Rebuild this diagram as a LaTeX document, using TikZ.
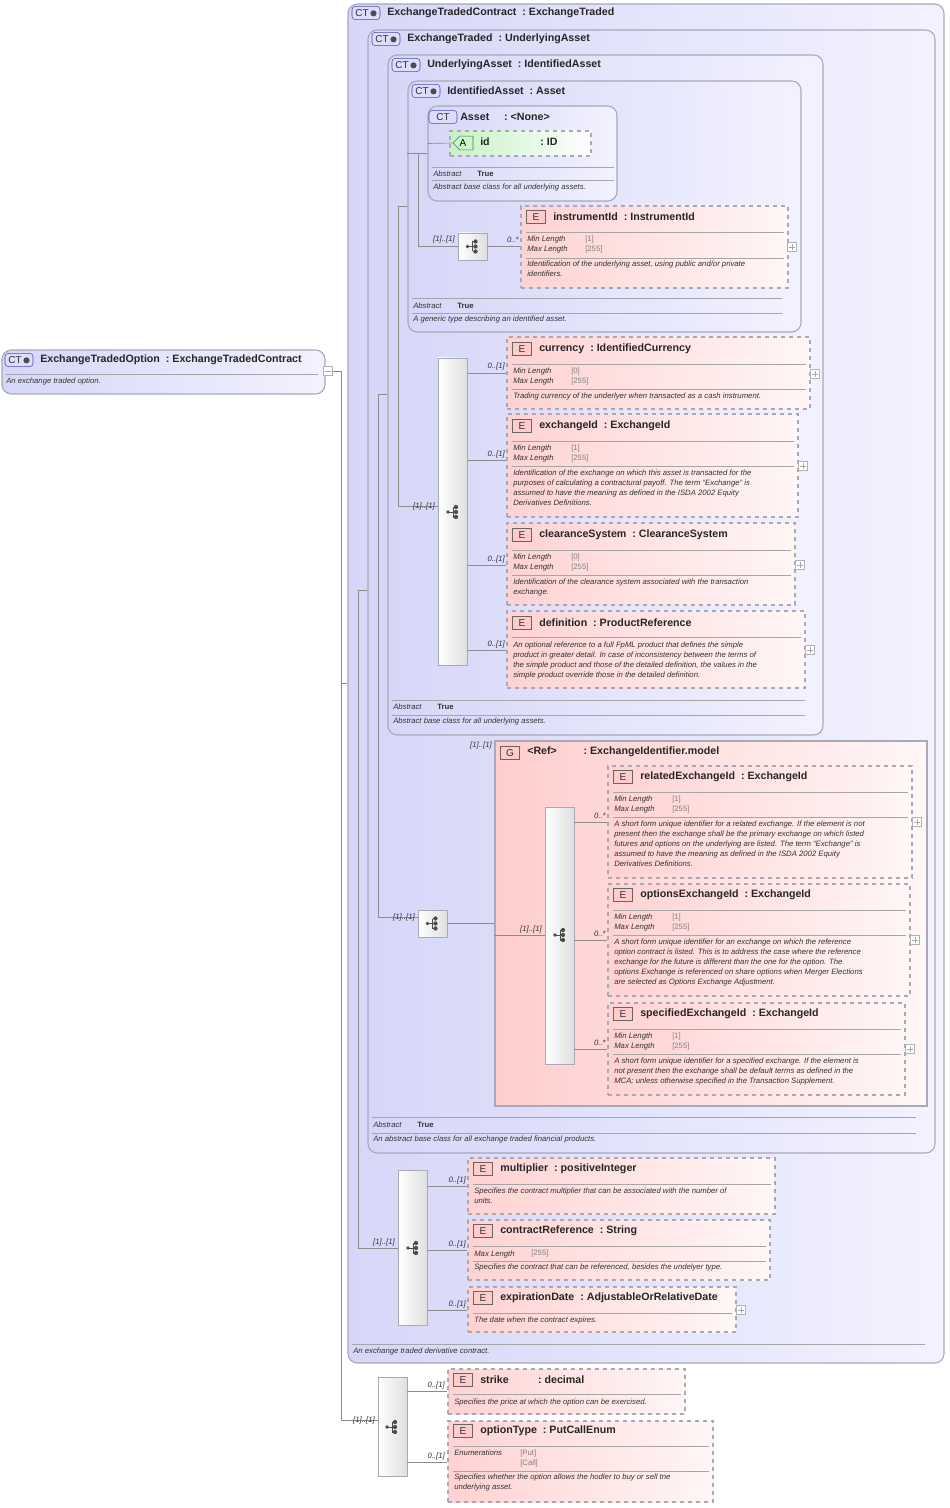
\documentclass[tikz,border=0pt]{standalone}
\usepackage{fontspec}
\setmainfont{Liberation Sans}
\usetikzlibrary{fit,shapes.geometric,shapes.misc}
\definecolor{lav}{HTML}{D6D6F8}
\definecolor{lavr}{HTML}{F2F2FF}
\definecolor{pk}{HTML}{FFD2D2}
\definecolor{pkg}{HTML}{FFCDCD}
\definecolor{pkr}{HTML}{FFF6F6}
\definecolor{gr}{HTML}{C6F2C6}
\definecolor{bd}{HTML}{A8A8B8}
\definecolor{ln}{HTML}{8C8C8C}
\tikzset{
 ctbox/.style={draw=bd, line width=0.8pt, rounded corners=7pt, left color=lav, right color=lavr, inner sep=0pt},
 elem/.style={draw=bd, dashed, line width=0.8pt, left color=pk, right color=pkr, inner sep=0pt},
 grp/.style={draw=bd, line width=0.8pt, left color=pkg, right color=pkr, inner sep=0pt},
 attr/.style={draw=bd, dashed, line width=0.8pt, left color=gr, right color=white, inner sep=0pt},
 seqb/.style={draw=bd, line width=0.6pt, left color=white, right color=gray!25, inner sep=0pt},
 conn/.style={draw=ln, line width=0.5pt},
 sep/.style={draw=gray!70, line width=0.5pt},
 ttl/.style={font=\fontsize{8}{9}\selectfont\bfseries, text=black!85, inner sep=0pt},
 sm/.style={font=\fontsize{5.8}{7.5}\selectfont\itshape, text=black!80, inner sep=0pt, align=left},
 smb/.style={font=\fontsize{5.8}{7.5}\selectfont\bfseries, text=black!80, inner sep=0pt},
 val/.style={font=\fontsize{5.8}{7.5}\selectfont, text=gray, inner sep=0pt, align=left},
 mult/.style={font=\fontsize{5.8}{7}\selectfont\itshape, text=black!80, inner sep=0pt},
 eicon/.style={draw=black!60, fill=pk!80!red!60, minimum width=14.5pt, minimum height=10pt, inner sep=0pt, font=\fontsize{7.5}{8}\selectfont, text=black!80},
 cticon/.style={draw=blue!40!gray, fill=lav!80!blue!40, rounded corners=2.5pt, minimum width=21pt, minimum height=10pt, inner sep=0pt, font=\fontsize{7.5}{8}\selectfont, text=black!80},
 pm/.style={draw=gray!60, fill=white, minimum width=6.5pt, minimum height=6.5pt, inner sep=0pt, line width=0.4pt},
 seqicon/.pic={\draw[black!70,line width=0.6pt] (-5,0)--(0,0) (0,-5)--(0,5) (0,-5)--(3,-5) (0,5)--(3,5) (0,0)--(3,0);
   \fill[black!70] (-5,0) circle (1.4pt) (3,-5) circle (1.6pt) (3,0) circle (1.6pt) (3,5) circle (1.6pt);}
}
\newcommand{\BX}[6]{\node[#1, fit={(#3,#4) (#5,#6)}] (#2) {};}
\newcommand{\ET}[4]{\node[eicon] (#1i) at (#2+10,#3) {E};\node[ttl,anchor=west] (#1t) at (#2+27,#3) {#4};}
\newcommand{\CT}[4]{\node[cticon] (#1i) at (#2+14,#3) {CT\,\tikz\fill[black!70](0,0) circle (2.3pt);};\node[ttl,anchor=west] (#1t) at (#2+35,#3) {#4};}
\newcommand{\PM}[3]{\node[pm] (#1) at (#2,#3) {};\draw[gray!70,line width=0.4pt] ([xshift=-2pt]#1.center)--([xshift=2pt]#1.center) ([yshift=-2pt]#1.center)--([yshift=2pt]#1.center);}
\newcommand{\DS}[4]{\node[sm,anchor=north west] (#1) at (#2,#3-4.5) {#4};}
\newcommand{\ML}[5]{\node[sm,anchor=north west] (#1a) at (#2,#3-4.5) {Min Length\\Max Length};\node[val,anchor=north west] (#1b) at (#2+58,#3-4.5) {{[#4]}\\{}{[#5]}};}
\begin{document}
\begin{tikzpicture}[x=0.75pt,y=-0.75pt]
\useasboundingbox[fill=white] (0,0) rectangle (949,1508);

% ---- root option
\BX{ctbox}{opt}{2}{350}{325}{394}
\CT{optc}{5}{360}{ExchangeTradedOption\ \ :\ ExchangeTradedContract}
\draw[sep] (6,374)--(318,374);
\DS{optd}{6}{382}{An exchange traded option.}
\node[pm] (optpm) at (328,371) {};\draw[gray!70,line width=0.4pt] ([xshift=-2pt]optpm.center)--([xshift=2pt]optpm.center);

% ---- contract
\BX{ctbox}{etc}{348}{4}{944}{1363}
\CT{etcc}{352}{13}{ExchangeTradedContract\ \ :\ ExchangeTraded}
\draw[sep] (352,1344)--(925,1344);
\DS{etcd}{353}{1352}{An exchange traded derivative contract.}

% ---- exchange traded
\BX{ctbox}{et}{368}{30}{935}{1153}
\CT{etc2}{372}{39}{ExchangeTraded\ \ :\ UnderlyingAsset}
\draw[sep] (372,1117)--(916,1117) (372,1133)--(916,1133);
\node[sm,anchor=west] (eta) at (373,1125) {Abstract};\node[smb,anchor=west] (etb) at (417,1125) {True};
\DS{etd}{373}{1140}{An abstract base class for all exchange traded financial products.}

% ---- underlying asset
\BX{ctbox}{ua}{388}{55}{823}{735}
\CT{uac}{392}{65}{UnderlyingAsset\ \ :\ IdentifiedAsset}
\draw[sep] (392,700)--(805,700) (392,715)--(805,715);
\node[sm,anchor=west] (uaa) at (393,707) {Abstract};\node[smb,anchor=west] (uab) at (437,707) {True};
\DS{uad}{393}{722}{Abstract base class for all underlying assets.}

% ---- identified asset
\BX{ctbox}{ia}{408}{81}{801}{332}
\CT{iac}{412}{91}{IdentifiedAsset\ \ :\ Asset}
\draw[sep] (412,298)--(782,298) (412,313)--(782,313);
\node[sm,anchor=west] (iaa) at (413,306) {Abstract};\node[smb,anchor=west] (iab) at (457,306) {True};
\DS{iad}{413}{320}{A generic type describing an identified asset.}

% ---- asset
\BX{ctbox}{as}{428}{106}{617}{201}
\node[cticon] (asi) at (443,117) {CT};\node[ttl,anchor=west] (ast) at (460,117) {Asset\ \ \ \ \ :\ <None>};
\BX{attr}{id}{450}{131}{591}{156}
\node[draw=black!60, fill=gr!80!green!60, minimum width=15pt, minimum height=10pt, inner sep=0pt, font=\fontsize{7.5}{8}\selectfont, chamfered rectangle, chamfered rectangle corners={north west,south west}, chamfered rectangle xsep=3pt] (idi) at (463,143) {A};
\node[ttl,anchor=west] (idt) at (480,142) {id\hspace{38pt}:\ ID};
\draw[sep] (432,167)--(614,167) (432,180)--(614,180);
\node[sm,anchor=west] (asa) at (433,174) {Abstract};\node[smb,anchor=west] (asb) at (477,174) {True};
\DS{asd}{433}{188}{Abstract base class for all underlying assets.}

% ---- instrumentId
\BX{elem}{ins}{521}{206}{788}{288}
\ET{inse}{526}{217}{instrumentId\ \ :\ InstrumentId}
\draw[sep] (526,232)--(784,232) (526,258)--(784,258);
\ML{insm}{527}{240}{1}{255}
\DS{insd}{527}{265}{Identification of the underlying asset, using public and/or private\\identifiers.}
\PM{inspm}{792}{247}
\BX{seqb}{sq0}{458}{233}{487}{260}
\pic at (sq0.center) {seqicon};

% connectors of inner hierarchy
\coordinate (j1) at (418,153);\coordinate (j1b) at (418,246);
\draw[conn] (as.west|-id) -- (idi.west);
\draw[conn] (as.west|-j1) -- (ia.west|-j1);
\draw[conn] (j1) -- (j1b) -- (sq0.west|-j1b);
\draw[conn] (sq0.east|-j1b) -- (ins.west|-j1b);
\node[mult,anchor=east] (m0) at (455,240) {[1]..[1]};
\node[mult,anchor=east] (m0b) at (519,240) {0..*};

% ---- seq1 with 4 elements
\BX{seqb}{sq1}{438}{358}{467}{665}
\pic at (453,512) {seqicon};
\BX{elem}{cur}{507}{337}{810}{409}
\ET{cure}{512}{349}{currency\ \ :\ IdentifiedCurrency}
\draw[sep] (512,364)--(806,364) (512,389)--(806,389);
\ML{curm}{513}{372}{0}{255}
\DS{curd}{513}{397}{Trading currency of the underlyer when transacted as a cash instrument.}
\PM{curpm}{815}{374}
\BX{elem}{exi}{507}{414}{798}{517}
\ET{exie}{512}{426}{exchangeId\ \ :\ ExchangeId}
\draw[sep] (512,441)--(794,441) (512,466)--(794,466);
\ML{exim}{513}{449}{1}{255}
\DS{exid}{513}{474}{Identification of the exchange on which this asset is transacted for the\\purposes of calculating a contractural payoff. The term ``Exchange'' is\\assumed to have the meaning as defined in the ISDA 2002 Equity\\Derivatives Definitions.}
\PM{exipm}{803}{466}
\BX{elem}{cls}{507}{523}{795}{605}
\ET{clse}{512}{535}{clearanceSystem\ \ :\ ClearanceSystem}
\draw[sep] (512,550)--(791,550) (512,575)--(791,575);
\ML{clsm}{513}{558}{0}{255}
\DS{clsd}{513}{583}{Identification of the clearance system associated with the transaction\\exchange.}
\PM{clspm}{800}{565}
\BX{elem}{def}{507}{611}{805}{688}
\ET{defe}{512}{623}{definition\ \ :\ ProductReference}
\draw[sep] (512,637)--(801,637);
\DS{defd}{513}{646}{An optional reference to a full FpML product that defines the simple\\product in greater detail. In case of inconsistency between the terms of\\the simple product and those of the detailed definition, the values in the\\simple product override those in the detailed definition.}
\PM{defpm}{810}{650}
\foreach \yy/\nn in {373/cur,460/exi,565/cls,650/def}{
  \draw[conn] (sq1.east|-0,\yy) -- (\nn.west|-0,\yy);
  \node[mult,anchor=east] at (505,\yy-6) {0..[1]};}
\coordinate (j2) at (398,206);\coordinate (j2b) at (398,506);
\draw[conn] (ia.west|-j2) -- (j2) -- (j2b) -- (sq1.west|-j2b);
\node[mult,anchor=east] (m1) at (435,506) {[1]..[1]};

% ---- group
\BX{grp}{grpb}{495}{741}{927}{1106}
\node[eicon] (gi) at (510,753) {G};
\node[ttl,anchor=west] (gt) at (527,752) {<Ref>\hspace{20pt}:\ ExchangeIdentifier.model};
\node[mult,anchor=east] (mg) at (492,745) {[1]..[1]};
\BX{seqb}{sq2}{418}{910}{447}{937}
\pic at (sq2.center) {seqicon};
\BX{seqb}{sq4}{545}{807}{574}{1064}
\pic at (560,935) {seqicon};
\BX{elem}{rel}{608}{766}{912}{878}
\ET{rele}{613}{777}{relatedExchangeId\ \ :\ ExchangeId}
\draw[sep] (613,792)--(908,792) (613,817)--(908,817);
\ML{relm}{614}{800}{1}{255}
\DS{reld}{614}{825}{A short form unique identifier for a related exchange. If the element is not\\present then the exchange shall be the primary exchange on which listed\\futures and options on the underlying are listed. The term ``Exchange'' is\\assumed to have the meaning as defined in the ISDA 2002 Equity\\Derivatives Definitions.}
\PM{relpm}{917}{822}
\BX{elem}{ope}{608}{884}{910}{996}
\ET{opee}{613}{895}{optionsExchangeId\ \ :\ ExchangeId}
\draw[sep] (613,910)--(906,910) (613,935)--(906,935);
\ML{opem}{614}{918}{1}{255}
\DS{oped}{614}{943}{A short form unique identifier for an exchange on which the reference\\option contract is listed. This is to address the case where the reference\\exchange for the future is different than the one for the option. The\\options Exchange is referenced on share options when Merger Elections\\are selected as Options Exchange Adjustment.}
\PM{opepm}{915}{940}
\BX{elem}{spe}{608}{1003}{905}{1095}
\ET{spee}{613}{1014}{specifiedExchangeId\ \ :\ ExchangeId}
\draw[sep] (613,1029)--(901,1029) (613,1054)--(901,1054);
\ML{spem}{614}{1037}{1}{255}
\DS{sped}{614}{1062}{A short form unique identifier for a specified exchange. If the element is\\not present then the exchange shall be default terms as defined in the\\MCA; unless otherwise specified in the Transaction Supplement.}
\PM{spepm}{910}{1049}
\foreach \yy/\nn in {822/rel,940/ope,1049/spe}{
  \draw[conn] (sq4.east|-0,\yy) -- (\nn.west|-0,\yy);
  \node[mult,anchor=east] at (606,\yy-6) {0..*};}
\coordinate (j3) at (378,394);\coordinate (j3b) at (378,917);
\draw[conn] (ua.west|-j3) -- (j3) -- (j3b) -- (sq2.west|-j3b);
\node[mult,anchor=east] (m2) at (415,917) {[1]..[1]};
\draw[conn] (sq2.east|-0,923) -- (grpb.west|-0,923);
\draw[conn] (grpb.west|-0,935) -- (sq4.west|-0,935);
\node[mult,anchor=east] (m4) at (542,929) {[1]..[1]};

% ---- seq3 contract elements
\BX{seqb}{sq3}{398}{1170}{427}{1325}
\pic at (413,1248) {seqicon};
\BX{elem}{mul}{468}{1158}{775}{1214}
\ET{mule}{473}{1169}{multiplier\ \ :\ positiveInteger}
\draw[sep] (473,1184)--(771,1184);
\DS{muld}{474}{1192}{Specifies the contract multiplier that can be associated with the number of\\units.}
\BX{elem}{cre}{468}{1220}{770}{1280}
\ET{cree}{473}{1231}{contractReference\ \ :\ String}
\draw[sep] (473,1246)--(766,1246) (473,1261)--(766,1261);
\node[sm,anchor=west] (crem) at (474,1254) {Max Length};\node[val,anchor=west] (crev) at (531,1253) {[255]};
\DS{cred}{474}{1268}{Specifies the contract that can be referenced, besides the undelyer type.}
\BX{elem}{exd}{468}{1287}{736}{1332}
\ET{exde}{473}{1298}{expirationDate\ \ :\ AdjustableOrRelativeDate}
\draw[sep] (473,1313)--(732,1313);
\DS{exdd}{474}{1321}{The date when the contract expires.}
\PM{exdpm}{741}{1310}
\foreach \yy/\nn in {1186/mul,1250/cre,1310/exd}{
  \draw[conn] (sq3.east|-0,\yy) -- (\nn.west|-0,\yy);
  \node[mult,anchor=east] at (466,\yy-6) {0..[1]};}
\coordinate (j4) at (358,590);\coordinate (j4b) at (358,1248);
\draw[conn] (et.west|-j4) -- (j4) -- (j4b) -- (sq3.west|-j4b);
\node[mult,anchor=east] (m3) at (395,1242) {[1]..[1]};

% ---- option elements
\BX{seqb}{sq5}{378}{1377}{407}{1476}
\pic at (392,1427) {seqicon};
\BX{elem}{stk}{448}{1369}{685}{1414}
\ET{stke}{453}{1380}{strike\hspace{22pt}:\ decimal}
\draw[sep] (453,1394)--(681,1394);
\DS{stkd}{454}{1403}{Specifies the price at which the option can be exercised.}
\BX{elem}{opt2}{448}{1421}{713}{1502}
\ET{opt2e}{453}{1431}{optionType\ \ :\ PutCallEnum}
\draw[sep] (453,1446)--(709,1446) (453,1471)--(709,1471);
\node[sm,anchor=north west] (opt2a) at (454,1449.5) {Enumerations};
\node[val,anchor=north west] (opt2b) at (520,1449.5) {{[Put]}\\{}{[Call]}};
\DS{opt2d}{454}{1478}{Specifies whether the option allows the hodler to buy or sell tne\\underlying asset.}
\foreach \yy/\nn in {1391/stk,1462/opt2}{
  \draw[conn] (sq5.east|-0,\yy) -- (\nn.west|-0,\yy);
  \node[mult,anchor=east] at (445,\yy-6) {0..[1]};}
\coordinate (j0) at (341,371);\coordinate (j0b) at (341,1420);\coordinate (j0c) at (341,683);
\draw[conn] (optpm.east) -- (j0) -- (j0b) -- (sq5.west|-j0b);
\draw[conn] (j0c) -- (etc.west|-j0c);
\node[mult,anchor=east] (m5) at (375,1420) {[1]..[1]};
\end{tikzpicture}
\end{document}
